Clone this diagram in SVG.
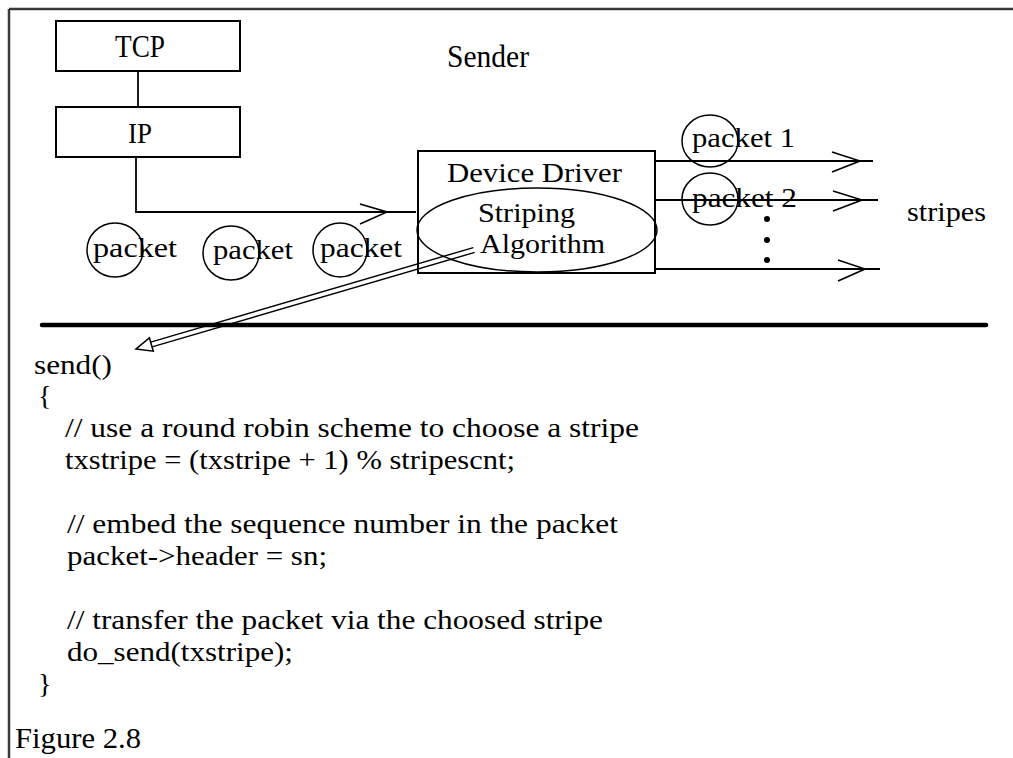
<svg xmlns="http://www.w3.org/2000/svg" width="1013" height="758" viewBox="0 0 1013 758">
  <style>
    .t { font-family: "Liberation Serif", "Times New Roman", serif; fill: #000; }
    .box { fill: #fff; stroke: #000; stroke-width: 2; }
    .ln { fill: none; stroke: #000; stroke-width: 1.8; }
    .chev { fill: none; stroke: #000; stroke-width: 1.6; stroke-linejoin: miter; }
    .ring { fill: none; stroke: #000; stroke-width: 1.5; }
  </style>

  <!-- white page and frame (top and left edges) -->
  <rect x="0" y="0" width="1013" height="758" fill="#fff"/>
  <g id="frame">
    <line x1="9" y1="9" x2="1013" y2="9" stroke="#3a3a3a" stroke-width="2.5"/>
    <line x1="9" y1="9" x2="9" y2="758" stroke="#3a3a3a" stroke-width="2.5"/>
  </g>

  <!-- connectors -->
  <g id="connectors">
    <!-- TCP to IP -->
    <line class="ln" x1="138" y1="71" x2="138" y2="107"/>
    <!-- IP down and across into the device driver -->
    <polyline class="ln" points="136,157 136,212 416,212"/>
    <polyline class="chev" points="360,204 387,212 360,224"/>
    <!-- outgoing stripes -->
    <line class="ln" x1="655" y1="161" x2="873" y2="161"/>
    <polyline class="chev" points="832,152 860,161 832,172"/>
    <line class="ln" x1="655" y1="200" x2="878" y2="200"/>
    <polyline class="chev" points="833,191 862,200 833,211"/>
    <line class="ln" x1="655" y1="269" x2="880" y2="269"/>
    <polyline class="chev" points="838,260 865,269 838,281"/>
    <!-- divider between diagram and code -->
    <line x1="42" y1="325" x2="986" y2="325" stroke="#000" stroke-width="4.5" stroke-linecap="round"/>
    <!-- double-line arrow from the striping algorithm to send() -->
    <line x1="474.7" y1="252.4" x2="152.1" y2="346.9" stroke="#000" stroke-width="1.4"/>
    <line x1="473.3" y1="247.6" x2="150.7" y2="342.1" stroke="#000" stroke-width="1.4"/>
    <polygon points="136,349 153.3,351.2 149.4,337.8" fill="#fff" stroke="#000" stroke-width="1.5"/>
  </g>

  <g id="tcp">
    <rect class="box" x="56" y="21" width="184" height="50"/>
    <text class="t" x="115" y="57" font-size="32" textLength="50" lengthAdjust="spacingAndGlyphs">TCP</text>
  </g>

  <g id="ip">
    <rect class="box" x="56" y="107" width="184" height="50"/>
    <text class="t" x="128" y="143" font-size="30" textLength="24" lengthAdjust="spacingAndGlyphs">IP</text>
  </g>

  <g id="sender-label">
    <text class="t" x="447" y="67" font-size="31" textLength="82" lengthAdjust="spacingAndGlyphs">Sender</text>
  </g>

  <g id="packets-in">
    <ellipse class="ring" cx="115" cy="250" rx="28" ry="27"/>
    <text class="t" x="93" y="257" font-size="28" textLength="84" lengthAdjust="spacingAndGlyphs">packet</text>
    <ellipse class="ring" cx="231" cy="253" rx="28" ry="27"/>
    <text class="t" x="213" y="259" font-size="28" textLength="80" lengthAdjust="spacingAndGlyphs">packet</text>
    <ellipse class="ring" cx="340" cy="250" rx="27" ry="27"/>
    <text class="t" x="320" y="257" font-size="28" textLength="82" lengthAdjust="spacingAndGlyphs">packet</text>
  </g>

  <g id="device-driver">
    <rect x="418" y="151" width="237" height="122" fill="none" stroke="#000" stroke-width="2"/>
    <text class="t" x="447" y="182" font-size="28" textLength="175" lengthAdjust="spacingAndGlyphs">Device Driver</text>
  </g>

  <g id="striping-algorithm">
    <ellipse class="ring" cx="537" cy="230" rx="120" ry="42"/>
    <text class="t" x="478" y="222" font-size="28" textLength="97" lengthAdjust="spacingAndGlyphs">Striping</text>
    <text class="t" x="480" y="253" font-size="28" textLength="125" lengthAdjust="spacingAndGlyphs">Algorithm</text>
  </g>

  <g id="packets-out">
    <ellipse class="ring" cx="710" cy="141" rx="28" ry="26"/>
    <text class="t" x="692" y="147" font-size="28" textLength="103" lengthAdjust="spacingAndGlyphs">packet 1</text>
    <ellipse class="ring" cx="710" cy="199" rx="28" ry="26"/>
    <text class="t" x="692" y="207" font-size="28" textLength="105" lengthAdjust="spacingAndGlyphs">packet 2</text>
    <circle cx="767" cy="219" r="3" fill="#000"/>
    <circle cx="767" cy="240" r="3" fill="#000"/>
    <circle cx="767" cy="260" r="3" fill="#000"/>
  </g>

  <g id="stripes-label">
    <text class="t" x="907" y="221" font-size="28" textLength="79" lengthAdjust="spacingAndGlyphs">stripes</text>
  </g>

  <g id="code">
    <text class="t" x="34" y="374" font-size="28" textLength="78" lengthAdjust="spacingAndGlyphs">send()</text>
    <text class="t" x="38" y="405" font-size="28">{</text>
    <text class="t" x="65" y="437" font-size="28" textLength="574" lengthAdjust="spacingAndGlyphs">// use a round robin scheme to choose a stripe</text>
    <text class="t" x="65" y="469" font-size="28" textLength="450" lengthAdjust="spacingAndGlyphs">txstripe = (txstripe + 1) % stripescnt;</text>
    <text class="t" x="67" y="533" font-size="28" textLength="551" lengthAdjust="spacingAndGlyphs">// embed the sequence number in the packet</text>
    <text class="t" x="67" y="565" font-size="28" textLength="260" lengthAdjust="spacingAndGlyphs">packet-&gt;header = sn;</text>
    <text class="t" x="67" y="629" font-size="28" textLength="536" lengthAdjust="spacingAndGlyphs">// transfer the packet via the choosed stripe</text>
    <text class="t" x="67" y="661" font-size="28" textLength="226" lengthAdjust="spacingAndGlyphs">do_send(txstripe);</text>
    <text class="t" x="38" y="693" font-size="28">}</text>
  </g>

  <g id="caption">
    <text class="t" x="15" y="748" font-size="29" textLength="126" lengthAdjust="spacingAndGlyphs">Figure 2.8</text>
  </g>
</svg>
